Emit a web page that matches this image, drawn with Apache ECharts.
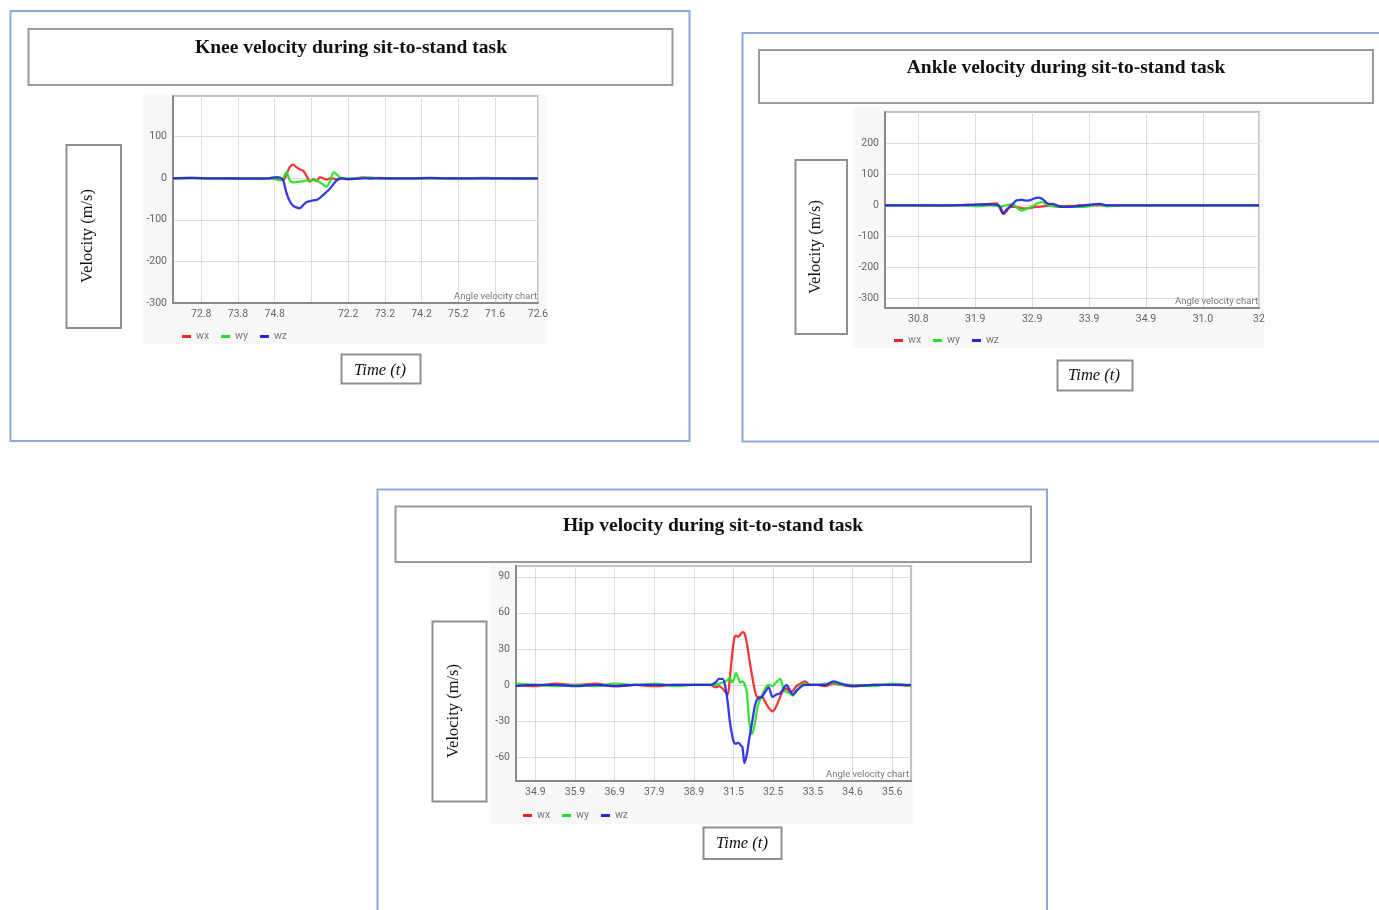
<!DOCTYPE html>
<html><head><meta charset="utf-8">
<script src="https://cdn.jsdelivr.net/npm/echarts@6/dist/echarts.min.js"></script>
<style>html,body{margin:0;padding:0;background:#fff}#c{width:1379px;height:910px}</style>
</head><body><div id="c"></div>
<script>
// ---------- DATA ----------
const seriesNames = ['wx', 'wy', 'wz'];

// Knee
const kneeTime = [0, 0.5, 1.0, 1.5, 2.0, 2.59, 2.82, 2.91, 3.0, 3.09, 3.18, 3.27, 3.36, 3.45, 3.55, 3.64, 3.73, 3.82, 3.91, 4.0, 4.09, 4.18, 4.27, 4.38, 4.47, 4.59, 4.73, 5.0, 5.18, 5.36, 5.6, 6.0, 6.5, 7.0, 7.5, 7.77, 8.0, 8.5, 9.0, 9.5, 9.94];
const kneeWx = [0, 1, 0, 0, 0, 0, 0, -2, -5, 10, 27, 33, 27, 22, 18, 5, -8, -2, -7, 3, 0, -3, 0, -1, -3, 0, -2, 0, 2, 0, 1, 0, 0, 0, 0, 0, 0, 1, 0, -1, 0];
const kneeWy = [0, 0, 0, 0, 0, 0, -3, -5, 0, 15, -5, -10, -9, -8, -7, -5, -6, -4, -5, -10, -15, -20, -8, 15, 8, 0, 0, 0, 1, 2, 0, 0, 0, 0, 0, -2, 0, 0, 0, 0, 0];
const kneeWz = [0, 1, 0, 0, -1, 0, 3, 2, -5, -35, -55, -66, -70, -72, -64, -57, -55, -53, -52, -47, -40, -33, -25, -13, -4, 0, -2, -1, 0, 0, 0, 0, 0, 1, 0, 0, 0, 0, 0, 0, 0];
const kneeTickLabels = ['72.8', '73.8', '74.8', '', '72.2', '73.2', '74.2', '75.2', '71.6', '72.6'];
const kneeYTicks = [-300, -200, -100, 0, 100];

// Ankle
const ankleTime = [0, 0.5, 1.0, 1.4, 1.61, 1.84, 1.96, 2.02, 2.08, 2.13, 2.19, 2.25, 2.30, 2.35, 2.40, 2.45, 2.5, 2.57, 2.62, 2.66, 2.70, 2.75, 2.80, 2.87, 2.95, 3.02, 3.1, 3.2, 3.36, 3.5, 3.77, 3.9, 4.1, 4.5, 5.0, 5.5, 6.0, 6.57];
const ankleWx = [0, 0, 0, 1, 2, 5, 6, -10, -28, -20, -6, -5, -5, -7, -9, -10, -9, -8, -6, -5, -5, -4, -3, -2, -2, -3, -3, -2, -1, 0, 0, 0, 0, 0, 0, 0, 0, 0];
const ankleWy = [0, 0, -1, 0, -3, 0, -2, -5, -2, 0, 2, 3, -5, -12, -17, -14, -10, -5, 0, 5, 8, 10, 8, 0, -3, -5, -5, -5, -5, -5, 3, -3, 0, 0, 0, 0, 0, 0];
const ankleWz = [0, 0, 0, 1, 2, 3, 2, -5, -25, -15, -5, 5, 15, 17, 18, 16, 15, 18, 22, 24, 25, 22, 15, 5, 5, 0, -5, -5, -3, 0, 5, 0, 0, 0, 0, 0, 0, 0];
const ankleTickLabels = ['30.8', '31.9', '32.9', '33.9', '34.9', '31.0', '32'];
const ankleYTicks = [-300, -200, -100, 0, 100, 200];

// Hip
const hipTime = [0, 0.5, 1.0, 1.5, 2.0, 2.5, 3.0, 3.5, 4.0, 4.5, 4.9, 5.03, 5.12, 5.21, 5.28, 5.34, 5.39, 5.45, 5.5, 5.55, 5.6, 5.66, 5.71, 5.76, 5.82, 5.88, 5.95, 6.02, 6.08, 6.13, 6.2, 6.28, 6.37, 6.47, 6.56, 6.66, 6.75, 6.82, 6.9, 6.98, 7.07, 7.17, 7.28, 7.42, 7.6, 7.8, 8.0, 8.2, 8.5, 9.0, 9.5, 9.96];
const hipWx = [0, -1, 1, 0, 1, -1, 0, -1, 0, 0, 0, -2, -1, -3, -6, -8, 5, 25, 38, 41, 40, 42, 44, 43, 35, 22, 8, -4, -10, -10, -10, -14, -19, -22, -18, -10, -4, -3, -6, -5, -1, 1, 3, 0, 0, -1, 1, 0, -1, 0, 0, -1];
const hipWy = [1, 0, -1, 0, -1, 1, 0, 1, -1, 0, 0, 0, 1, 2, 3, 4, 6, 2, 5, 10, 6, 2, 3, 1, -6, -30, -41, -33, -20, -14, -9, -3, 0, -1, 2, 5, -4, -6, -7, -9, -5, -1, 1, 0, 0, 1, 2, 0, 0, -1, 1, -1];
const hipWz = [-1, 0, 0, -1, 0, -1, 0, 0, 0, 0, 0, 2, 5, 5, -2, -15, -30, -42, -48, -49, -48, -50, -52, -65, -58, -45, -32, -18, -12, -11, -10, -6, -2, -10, -8, -7, -3, 0, -4, -8, -5, -2, 0, 0, 0, 0, 3, 1, -1, 0, 0, 0];
const hipTickLabels = ['34.9', '35.9', '36.9', '37.9', '38.9', '31.5', '32.5', '33.5', '34.6', '35.6'];
const hipYTicks = [-60, -30, 0, 30, 60, 90];

// ---------- CHART ----------
const COLORS = ['#f02424', '#22e022', '#2424e6'];
const chart = echarts.init(document.getElementById('c'), null, {renderer: 'canvas'});

const panels = [
  {time: kneeTime, vals: [kneeWx, kneeWy, kneeWz], labels: kneeTickLabels,
   xPos: [0.77, 1.77, 2.77, 3.77, 4.77, 5.77, 6.77, 7.77, 8.77, 9.94], xMax: 9.94,
   yTicks: kneeYTicks, yMin: -300, yMax: 198,
   grid: {left: 173, top: 96, width: 365, height: 207}, legend: {left: 177, top: 326}},
  {time: ankleTime, vals: [ankleWx, ankleWy, ankleWz], labels: ankleTickLabels,
   xPos: [0.585, 1.585, 2.585, 3.585, 4.585, 5.585, 6.57], xMax: 6.57,
   yTicks: ankleYTicks, yMin: -330, yMax: 300,
   grid: {left: 885, top: 112, width: 374, height: 196}, legend: {left: 889, top: 330}},
  {time: hipTime, vals: [hipWx, hipWy, hipWz], labels: hipTickLabels,
   xPos: [0.487, 1.487, 2.487, 3.487, 4.487, 5.487, 6.487, 7.487, 8.487, 9.487], xMax: 9.96,
   yTicks: hipYTicks, yMin: -80, yMax: 99,
   grid: {left: 516, top: 566, width: 395, height: 215}, legend: {left: 518, top: 805}}
];

const grids = [], xAxes = [], yAxes = [], series = [], legends = [];
panels.forEach((p, i) => {
  grids.push(Object.assign({show: true, backgroundColor: '#fff', borderColor: '#b0b0b0', borderWidth: 1.5, containLabel: false, z: 0}, p.grid));
  const labelMap = {};
  p.xPos.forEach((v, k) => { labelMap[v.toFixed(3)] = p.labels[k]; });
  xAxes.push({
    type: 'value', gridIndex: i, min: 0, max: p.xMax, z: 1,
    axisLine: {show: true, onZero: false, lineStyle: {color: '#8a8a8a', width: 2}},
    axisTick: {show: false, customValues: p.xPos},
    axisLabel: {customValues: p.xPos, margin: 6, fontFamily: 'Roboto', fontSize: 10.5, color: '#666',
      formatter: v => labelMap[Number(v).toFixed(3)] || ''},
    splitLine: {show: true, lineStyle: {color: '#dcdcdc', width: 1}}
  });
  yAxes.push({
    type: 'value', gridIndex: i, min: p.yMin, max: p.yMax, z: 1,
    axisLine: {show: true, onZero: false, lineStyle: {color: '#8a8a8a', width: 2}},
    axisTick: {show: false, customValues: p.yTicks},
    axisLabel: {customValues: p.yTicks, margin: 6, fontFamily: 'Roboto', fontSize: 10.5, color: '#666'},
    splitLine: {show: true, lineStyle: {color: '#dcdcdc', width: 1}}
  });
  seriesNames.forEach((n, s) => {
    series.push({
      type: 'line', name: n, xAxisIndex: i, yAxisIndex: i, showSymbol: false, smooth: 0.3,
      lineStyle: {width: 2.3, color: COLORS[s], opacity: 0.9}, itemStyle: {color: COLORS[s]},
      data: p.time.map((t, k) => [t, p.vals[s][k]]), z: 3 + s
    });
  });
  legends.push({
    left: p.legend.left, top: p.legend.top, orient: 'horizontal', icon: 'rect',
    itemWidth: 9, itemHeight: 3, itemGap: 12, selectedMode: false,
    textStyle: {fontFamily: 'Roboto', fontSize: 10.5, color: '#777'}, data: seriesNames
  });
});

const serif = '"Liberation Serif", "Times New Roman", serif';
function box(x, y, w, h, stroke, lw) {
  return {type: 'rect', shape: {x: x, y: y, width: w, height: h}, style: {fill: 'none', stroke: stroke, lineWidth: lw}, silent: true, z: 10};
}
function txt(x, y, t, font, rot) {
  return {type: 'text', x: x, y: y, rotation: rot || 0, silent: true, z: 10,
    style: {text: t, textAlign: 'center', textVerticalAlign: 'middle', font: font, fill: '#111'}};
}
function desc(x, y) {
  return {type: 'text', x: x, y: y, silent: true, z: 10,
    style: {text: 'Angle velocity chart', textAlign: 'right', textVerticalAlign: 'bottom', font: '9.5px Roboto', fill: '#777'}};
}
const graphic = [
  // chart image backgrounds
  {type: 'rect', shape: {x: 143, y: 94, width: 403, height: 250}, style: {fill: '#f8f8f8'}, silent: true, z: -10},
  {type: 'rect', shape: {x: 853, y: 107, width: 411, height: 241}, style: {fill: '#f8f8f8'}, silent: true, z: -10},
  {type: 'rect', shape: {x: 490, y: 563, width: 423, height: 261}, style: {fill: '#f8f8f8'}, silent: true, z: -10},
  // panel borders
  box(10.5, 11, 679, 430, '#8eaadb', 2),
  box(742.5, 33, 700, 408.5, '#8eaadb', 2),
  box(377.5, 489.5, 669.5, 500, '#8eaadb', 2),
  // title boxes
  box(28.5, 29, 644, 56, '#9a9a9a', 2),
  box(759, 50, 614, 53, '#9a9a9a', 2),
  box(395.5, 506.5, 635.5, 55.5, '#9a9a9a', 2),
  // y label boxes
  box(66.5, 145, 54.5, 183, '#8f8f8f', 2),
  box(795.5, 160, 51.5, 174, '#8f8f8f', 2),
  box(432.5, 621.5, 54, 180, '#8f8f8f', 2),
  // time boxes
  box(341.5, 354.5, 79, 29, '#8f8f8f', 2),
  box(1057.5, 360.5, 75, 30, '#8f8f8f', 2),
  box(703.5, 827.5, 78, 31.5, '#8f8f8f', 2),
  // titles
  txt(351, 47.5, 'Knee velocity during sit-to-stand task', 'bold 19.5px ' + serif),
  txt(1066, 67.5, 'Ankle velocity during sit-to-stand task', 'bold 19.5px ' + serif),
  txt(713, 525.5, 'Hip velocity during sit-to-stand task', 'bold 19.5px ' + serif),
  // y labels
  txt(88, 236, 'Velocity (m/s)', '16.5px ' + serif, Math.PI / 2),
  txt(816, 247, 'Velocity (m/s)', '16.5px ' + serif, Math.PI / 2),
  txt(454, 711, 'Velocity (m/s)', '16.5px ' + serif, Math.PI / 2),
  // time labels
  txt(380, 371, 'Time (t)', 'italic 16.5px ' + serif),
  txt(1094, 376, 'Time (t)', 'italic 16.5px ' + serif),
  txt(742, 844, 'Time (t)', 'italic 16.5px ' + serif),
  // chart descriptions
  desc(537, 302), desc(1258, 307), desc(909, 780)
];

chart.setOption({
  backgroundColor: '#fff',
  animation: false,
  grid: grids, xAxis: xAxes, yAxis: yAxes, series: series, legend: legends,
  graphic: {elements: graphic}
});
</script></body></html>
